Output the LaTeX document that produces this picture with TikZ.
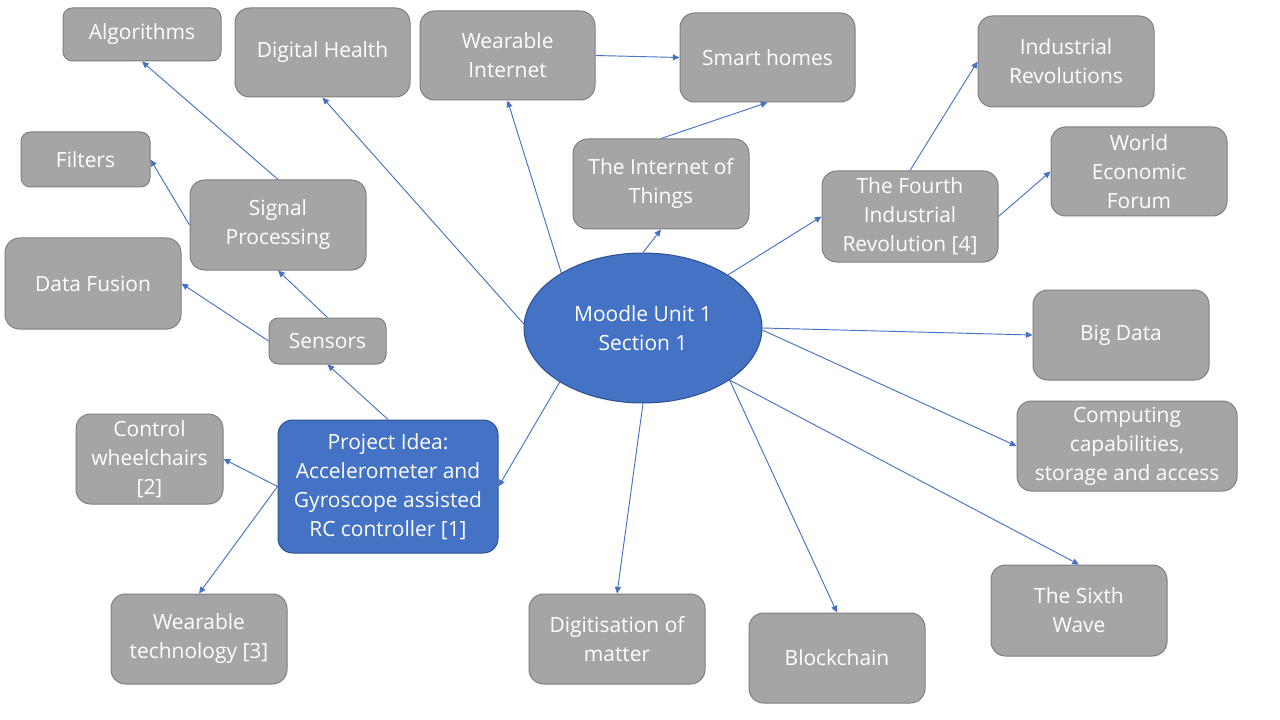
\documentclass[tikz,border=0pt]{standalone}
\usepackage{fontspec}
\setmainfont{Open Sans}
\usetikzlibrary{shapes.geometric,arrows.meta}
\definecolor{gfill}{HTML}{A5A5A5}
\definecolor{gline}{HTML}{7F7F7F}
\definecolor{bfill}{HTML}{4472C4}
\definecolor{bline}{HTML}{2F528F}
\tikzset{
  px/.style={x=0.75pt,y=-0.75pt},
  wh/.style 2 args={minimum width=#1*0.75pt, minimum height=#2*0.75pt},
  gbox/.style={draw=gline, fill=gfill, line width=0.75pt, rounded corners=11pt, text=white, align=center, inner sep=0pt, font=\fontsize{15.7pt}{21.75pt}\selectfont},
  sbox/.style={gbox, rounded corners=7pt},
  bbox/.style={gbox, draw=bline, fill=bfill},
  conn/.style={draw=bfill, line width=0.7pt, -{Triangle[length=5pt,width=4.5pt]}}
}
\begin{document}
\begin{tikzpicture}[px]
\useasboundingbox[fill=white] (0,0) rectangle (1280,720);
% nodes
\node[sbox, wh={158}{53}] (alg) at (142,34.5) {Algorithms};
\node[gbox, wh={175}{89}] (dh) at (322.5,52.5) {Digital Health};
\node[gbox, wh={175}{89}] (wi) at (507.5,55.5) {Wearable\\Internet};
\node[gbox, wh={175}{89}] (sh) at (767.5,57.5) {Smart homes};
\node[gbox, wh={176}{91}] (ir) at (1066,61.5) {Industrial\\Revolutions};
\node[gbox, wh={176}{90}] (iot) at (661,184) {The Internet of\\Things};
\node[gbox, wh={176}{89}] (wef) at (1139,171.5) {World\\Economic\\Forum};
\node[gbox, wh={176}{91}] (fir) at (910,216.5) {The Fourth\\Industrial\\Revolution [4]};
\node[sbox, wh={129}{55}] (fil) at (85.5,159.5) {Filters};
\node[gbox, wh={176}{90}] (sp) at (278,225) {Signal\\Processing};
\node[gbox, wh={176}{91}] (df) at (93,283.5) {Data Fusion};
\node[sbox, wh={117}{46}] (sen) at (327.5,341) {Sensors};
\node[ellipse, draw=bline, fill=bfill, line width=0.75pt, wh={238}{150}, inner sep=0pt, text=white, align=center, font=\fontsize{15.7pt}{21.75pt}\selectfont] (m) at (643,328) {Moodle Unit 1\\Section 1};
\node[gbox, wh={176}{90}] (bd) at (1121,335) {Big Data};
\node[gbox, wh={220}{90}] (cc) at (1127,446) {Computing\\capabilities,\\storage and access};
\node[gbox, wh={176}{91}] (sw) at (1079,610.5) {The Sixth\\Wave};
\node[gbox, wh={176}{90}] (bc) at (837,658) {Blockchain};
\node[gbox, wh={176}{90}] (dig) at (617,639) {Digitisation of\\matter};
\node[gbox, wh={176}{90}] (wt) at (199,639) {Wearable\\technology [3]};
\node[gbox, wh={147}{90}] (cw) at (149.5,459) {Control\\wheelchairs\\{[2]}};
\node[bbox, wh={220}{133}] (pi) at (388,486.5) {Project Idea:\\Accelerometer and\\Gyroscope assisted\\RC controller [1]};
% connectors
\draw[conn] (sp.north) -- (alg.south);
\draw[conn] (sp.west) -- (fil.east);
\draw[conn] (sen.north) -- (sp.south);
\draw[conn] (sen.west) -- (df.east);
\draw[conn] (pi.north) -- (sen.south);
\draw[conn] (pi.west) -- (cw.east);
\draw[conn] (pi.west) -- (wt.north);
\draw[conn] (m.146.6) -- (wi.south);
\draw[conn] (m.178.6) -- (dh.south);
\draw[conn] (m.north) -- (iot.south);
\draw[conn] (iot.north) -- (sh.south);
\draw[conn] (wi.east) -- (sh.west);
\draw[conn] (m.32.4) -- (fir.west);
\draw[conn] (fir.north) -- (ir.west);
\draw[conn] (fir.east) -- (wef.west);
\draw[conn] (m.0.5) -- (bd.west);
\draw[conn] (m.-1) -- (cc.west);
\draw[conn] (m.-31) -- (sw.north);
\draw[conn] (m.-31) -- (bc.north);
\draw[conn] (m.south) -- (dig.north);
\draw[conn] (m.-147) -- (pi.east);
\end{tikzpicture}
\end{document}
